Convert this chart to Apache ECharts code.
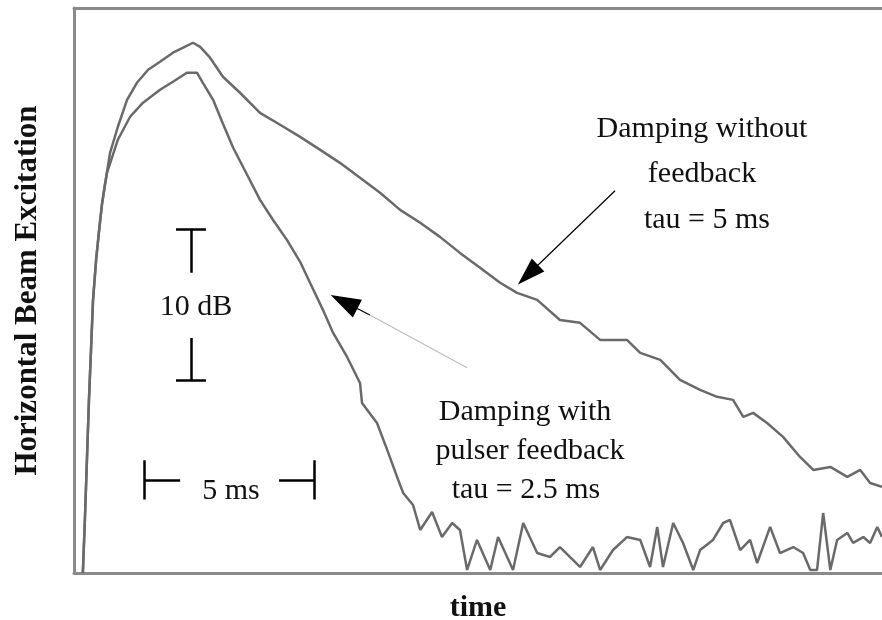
<!DOCTYPE html>
<html>
<head>
<meta charset="utf-8">
<script src="https://cdn.jsdelivr.net/npm/echarts@6/dist/echarts.min.js"></script>
<style>
html,body{margin:0;padding:0;background:#fff;}
#chart{width:882px;height:620px;}
</style>
</head>
<body>
<div id="chart"></div>
<script>
// ---- data (time in ms, level in dB) ----
const noFbTime  = [0.26,0.32,0.38,0.44,0.50,0.56,0.65,0.74,0.82,0.91,1.06,1.29,1.56,1.85,2.18,2.53,2.91,3.21,3.50,3.71,4.00,4.38,4.88,5.47,6.06,6.65,7.24,7.82,8.41,9.00,9.59,10.18,10.76,11.35,11.94,12.53,13.03,13.62,14.29,14.88,15.47,16.26,16.65,17.24,17.82,18.41,18.91,19.38,19.68,19.97,20.38,20.85,21.35,21.74,22.24,22.74,23.12,23.41,23.76];
const noFbLevel = [0,3.51,7.48,11.46,14.77,18.08,20.73,22.72,24.37,25.70,27.81,29.54,31.32,32.45,33.31,33.84,34.44,34.77,35.10,34.83,34.11,32.85,31.79,30.46,29.67,28.87,28.01,27.15,26.16,25.17,24.04,23.18,22.25,21.19,20.20,19.21,18.54,18.08,16.75,16.56,15.43,15.43,14.57,14.11,12.78,12.12,11.66,11.46,10.33,10.60,9.93,9.01,7.68,6.82,7.02,6.36,6.82,5.96,5.70];

const withFbTime  = [0.26,0.32,0.38,0.44,0.50,0.56,0.65,0.74,0.82,0.91,0.97,1.29,1.65,2.03,2.53,2.91,3.32,3.62,3.79,4.09,4.38,4.68,5.09,5.47,5.85,6.26,6.65,6.94,7.32,7.62,8.03,8.41,8.47,8.91,9.21,9.50,9.68,9.97,10.18,10.53,10.82,11.12,11.35,11.56,11.85,12.24,12.47,12.91,13.21,13.62,14.00,14.29,14.88,15.26,15.47,15.85,16.26,16.65,16.94,17.15,17.32,17.62,17.91,18.21,18.41,18.79,19.09,19.29,19.59,19.88,20.09,20.47,20.76,21.15,21.44,21.65,21.85,22.03,22.24,22.44,22.74,22.91,23.21,23.41,23.62,23.76];
const withFbLevel = [0,3.51,7.48,11.46,14.77,18.08,20.73,22.72,24.37,25.70,26.49,28.68,30.20,31.13,31.99,32.52,33.11,33.11,32.45,31.32,29.74,28.15,26.36,24.70,23.38,22.05,20.60,19.21,17.42,15.89,14.30,12.58,11.26,9.93,8.15,6.36,5.30,4.50,2.85,4.04,2.38,3.31,2.85,0.20,2.19,0.20,2.38,0.20,3.31,1.32,1.06,1.72,0.40,1.72,0.20,1.52,2.38,2.19,0.40,3.05,0.40,3.31,1.99,0.20,1.52,2.19,3.31,3.51,1.52,2.19,0.66,3.05,1.32,1.72,1.32,0.20,0.20,3.97,0.20,2.19,2.65,1.99,2.38,1.99,3.05,2.38];

const scaleBarDb = 10;   // vertical scale bar length, dB
const scaleBarMs = 5;    // horizontal scale bar length, ms

// ---- layout (axis ranges & annotation anchors, in data units) ----
const X_MAX = 23.76, Y_MAX = 37.4;
const vBar = { t: 3.44, top: 22.78, gapTop: 19.87, gapBottom: 15.56, serif: 0.44 };
const hBar = { left: 2.06, d: 6.16, gapLeft: 3.12, gapRight: 6.03, serif: 1.3 };
const arrowNo   = { from: [15.91, 25.30], to: [13.35, 19.74] };
const arrowWith = { from: [11.56, 13.58], base: [8.70, 17.08], to: [7.94, 17.95] };

const zip = (a, b) => a.map((v, i) => [v, b[i]]);

const vBottom = vBar.top - scaleBarDb;
const hRight = hBar.left + scaleBarMs;
const barSegments = [
  [[vBar.t - vBar.serif, vBar.top], [vBar.t + vBar.serif, vBar.top]],
  [[vBar.t, vBar.top], [vBar.t, vBar.gapTop]],
  [[vBar.t, vBar.gapBottom], [vBar.t, vBottom]],
  [[vBar.t - vBar.serif, vBottom], [vBar.t + vBar.serif, vBottom]],
  [[hBar.left, hBar.d + hBar.serif], [hBar.left, hBar.d - hBar.serif]],
  [[hBar.left, hBar.d], [hBar.gapLeft, hBar.d]],
  [[hBar.gapRight, hBar.d], [hRight, hBar.d]],
  [[hRight, hBar.d + hBar.serif], [hRight, hBar.d - hBar.serif]]
];

const serif = '"Liberation Serif","Times New Roman",Times,serif';
const txt = (s, x, y) => ({
  type: 'text', x: x, y: y, silent: true,
  style: { text: s, fill: '#111', font: '30px ' + serif, align: 'center', verticalAlign: 'middle', textAlign: 'center', textVerticalAlign: 'middle' }
});
const frameLine = { show: true, lineStyle: { color: '#8a8a8a', width: 3 } };

const chart = echarts.init(document.getElementById('chart'), null, { renderer: 'canvas' });
chart.setOption({
  animation: false,
  backgroundColor: '#fff',
  grid: { left: 74, top: 8, bottom: 47, right: 0, show: false, containLabel: false, outerBoundsMode: 'none' },
  xAxis: [{
    type: 'value', min: 0, max: X_MAX, position: 'bottom',
    name: 'time', nameLocation: 'middle', nameGap: 20,
    nameTextStyle: { fontFamily: serif, fontSize: 30, fontWeight: 'bold', color: '#111', verticalAlign: 'top' },
    axisLine: frameLine, axisTick: { show: false }, axisLabel: { show: false }, splitLine: { show: false }
  }, {
    type: 'value', min: 0, max: X_MAX, position: 'top',
    axisLine: frameLine, axisTick: { show: false }, axisLabel: { show: false }, splitLine: { show: false }
  }],
  yAxis: {
    type: 'value', min: 0, max: Y_MAX,
    name: 'Horizontal Beam Excitation', nameLocation: 'middle', nameGap: 31,
    nameTextStyle: { fontFamily: serif, fontSize: 31, fontWeight: 'bold', color: '#111' },
    axisLine: frameLine, axisTick: { show: false }, axisLabel: { show: false }, splitLine: { show: false }
  },
  series: [
    {
      name: 'Damping without feedback', type: 'line', data: zip(noFbTime, noFbLevel),
      showSymbol: false, silent: true, lineStyle: { color: '#6a6a6a', width: 2.5 },
      markLine: {
        silent: true, symbol: ['none', 'triangle'], symbolSize: [18, 28],
        label: { show: false },
        lineStyle: { color: '#000', width: 1.2, type: 'solid' },
        data: [[{ coord: arrowNo.from }, { coord: arrowNo.to }]]
      }
    },
    {
      name: 'Damping with pulser feedback', type: 'line', data: zip(withFbTime, withFbLevel),
      showSymbol: false, silent: true, lineStyle: { color: '#6a6a6a', width: 2.5 },
      markLine: {
        silent: true, symbol: ['none', 'none'],
        label: { show: false },
        data: [
          [{ coord: arrowWith.from, lineStyle: { color: '#bdbdbd', width: 1.2, type: 'solid' } },
           { coord: arrowWith.base }],
          [{ coord: arrowWith.base, symbol: 'none', lineStyle: { color: '#000', width: 1.2, type: 'solid' } },
           { coord: arrowWith.to, symbol: 'triangle', symbolSize: [20, 30] }]
        ]
      }
    },
    {
      name: 'scale bars', type: 'lines', coordinateSystem: 'cartesian2d', silent: true,
      lineStyle: { color: '#000', width: 2.5, opacity: 1 },
      data: barSegments.map(c => ({ coords: c }))
    }
  ],
  graphic: [
    txt('10 dB', 196, 307),
    txt('5 ms', 231, 491),
    txt('Damping without', 702, 129),
    txt('feedback', 702, 174),
    txt('tau = 5 ms', 707, 220),
    txt('Damping with', 525, 412),
    txt('pulser feedback', 530, 451),
    txt('tau = 2.5 ms', 526, 490)
  ]
});
</script>
</body>
</html>
